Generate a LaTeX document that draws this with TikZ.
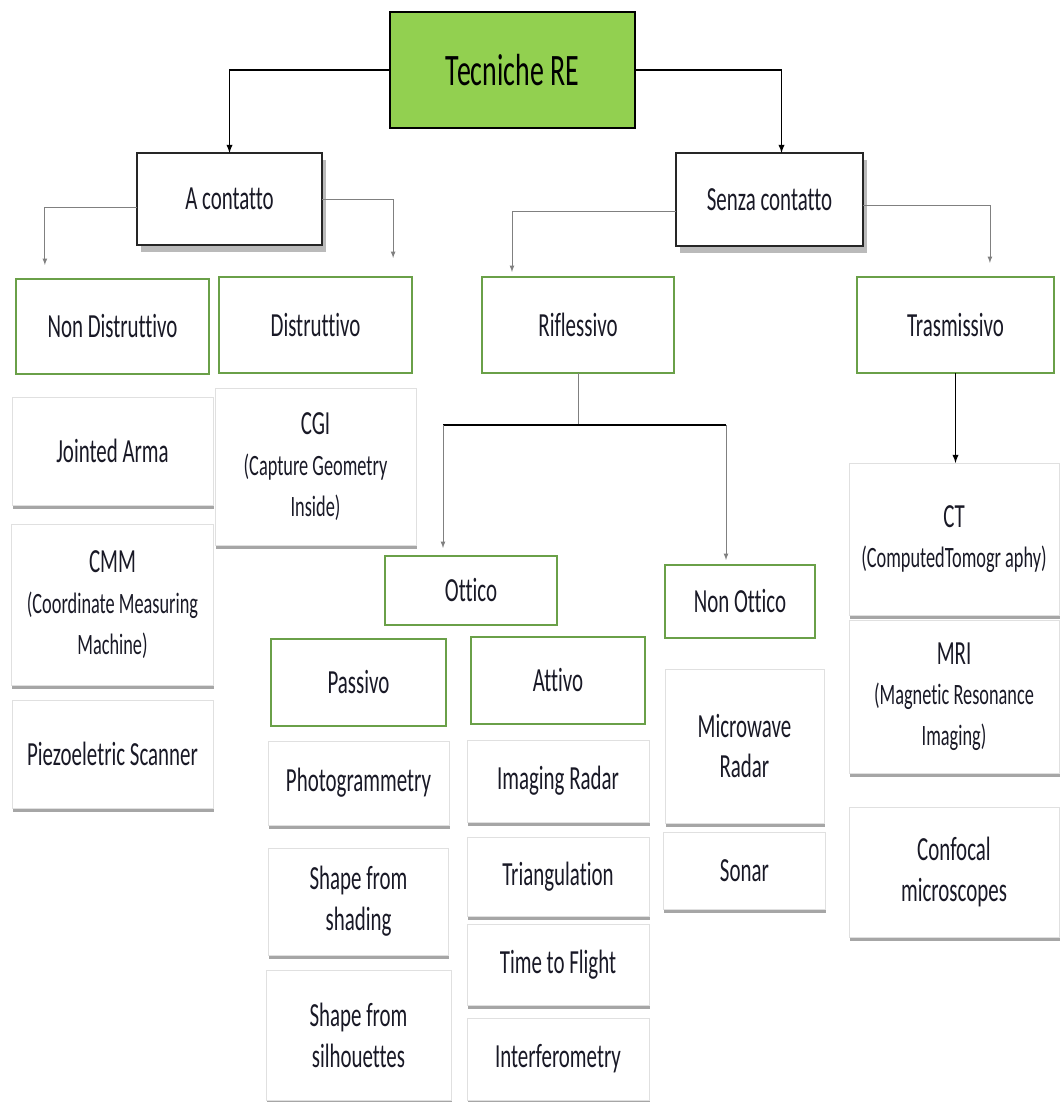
\documentclass[tikz,border=0pt]{standalone}
\usepackage{fontspec}
\setmainfont{Carlito}[FakeStretch=0.62, Ligatures=CommonOff]
\usetikzlibrary{positioning}
\usetikzlibrary{shadows}

\definecolor{rootgreen}{RGB}{146,208,80}
\definecolor{catgreen}{RGB}{106,160,72}
\definecolor{labelink}{RGB}{25,25,38}
\newcommand{\mainlbl}{\fontsize{24}{29}\selectfont}
\newcommand{\sublbl}{\fontsize{21}{29}\selectfont}

\begin{document}
\begin{tikzpicture}[x=0.025cm, y=-0.025cm, outer sep=0, >=latex,
    rootbox/.style={draw, line width=1.2pt, fill=rootgreen, minimum width=6.125cm, minimum height=2.9cm, font=\fontsize{32}{36}\selectfont},
    midbox/.style={draw=black!85, line width=1.1pt, fill=white, drop shadow={shadow xshift=3pt, shadow yshift=-5pt, fill=black!45, opacity=0.6}, font=\mainlbl, text=labelink},
    catbox/.style={draw=catgreen, line width=1.2pt, fill=white, font=\mainlbl, text=labelink},
    leafbox/.style={draw=black!12, fill=white, align=center, drop shadow={shadow xshift=0.5pt, shadow yshift=-2.5pt, fill=black!50, opacity=0.7}, font=\mainlbl, text=labelink},
    greyline/.style={gray, line width=0.6pt}]
        \useasboundingbox (0,0) rectangle (1059,1102);
        % top levels
        \node [rootbox] (root) at (512.5,70) {Tecniche RE};
        \node [midbox, minimum width=4.625cm, minimum height=2.3cm] (acont) at (229.5,199) {A contatto};
        \node [midbox, minimum width=4.675cm, minimum height=2.325cm] (scont) at (769.5,199.5) {Senza contatto};
        % categories
        \node [catbox, minimum width=4.825cm, minimum height=2.375cm] (nondistr) at (112.5,326.5) {Non Distruttivo};
        \node [catbox, minimum width=4.825cm, minimum height=2.4cm] (distr) at (315.5,325) {Distruttivo};
        \node [catbox, minimum width=4.8cm, minimum height=2.4cm] (rifl) at (578,325) {Riflessivo};
        \node [catbox, minimum width=4.925cm, minimum height=2.4cm] (trasm) at (955.5,325) {Trasmissivo};
        % contact techniques
        \node [leafbox, minimum width=5.025cm, minimum height=2.7cm, below = 0.575cm of nondistr] (jarm) {Jointed Arma};
        \node [leafbox, minimum width=5.05cm, minimum height=4.025cm, below = 0.475cm of jarm] (cmm) {CMM\\\sublbl(Coordinate Measuring\\\sublbl Machine)};
        \node [leafbox, minimum width=5.025cm, minimum height=2.7cm, below = 0.375cm of cmm] (piezo) {Piezoeletric Scanner};
        \node [leafbox, minimum width=5.025cm, minimum height=3.925cm, below = 0.375cm of distr] (cgi) {CGI\\\sublbl(Capture Geometry\\\sublbl Inside)};
        % reflective
        \node [catbox, minimum width=4.3cm, minimum height=1.725cm] (ottico) at (471,590.5) {Ottico};
        \node [catbox, minimum width=3.75cm, minimum height=1.825cm] (nonott) at (740,601.5) {Non Ottico};
        \node [catbox, minimum width=4.375cm, minimum height=2.175cm] (passivo) at (358.5,682.5) {Passivo};
        \node [catbox, minimum width=4.35cm, minimum height=2.175cm] (attivo) at (558,680.5) {Attivo};
        \node [leafbox, minimum width=4.525cm, minimum height=2.1cm, below = 0.375cm of passivo] (photo) {Photogrammetry};
        \node [leafbox, minimum width=4.5cm, minimum height=2.675cm, below = 0.575cm of photo] (shading) {Shape from\\shading};
        \node [leafbox, minimum width=4.625cm, minimum height=3.25cm, below = 0.375cm of shading] (silh) {Shape from\\silhouettes};
        \node [leafbox, minimum width=4.55cm, minimum height=2.05cm, below = 0.4cm of attivo] (imradar) {Imaging Radar};
        \node [leafbox, minimum width=4.55cm, minimum height=1.975cm, below = 0.375cm of imradar] (triang) {Triangulation};
        \node [leafbox, minimum width=4.55cm, minimum height=2.025cm, below = 0.2cm of triang] (tof) {Time to Flight};
        \node [leafbox, minimum width=4.55cm, minimum height=2.05cm, below = 0.325cm of tof] (interf) {Interferometry};
        \node [leafbox, minimum width=3.975cm, minimum height=3.85cm, below = 0.775cm of nonott, xshift=0.11cm] (mwradar) {Microwave\\Radar};
        \node [leafbox, minimum width=4.05cm, minimum height=1.925cm, below = 0.225cm of mwradar] (sonar) {Sonar};
        % transmissive
        \node [leafbox, minimum width=5.25cm, minimum height=3.8cm] (ct) at (954,539) {CT\\\sublbl(ComputedTomogr aphy)};
        \node [leafbox, minimum width=5.25cm, minimum height=3.825cm, below = 0.125cm of ct] (mri) {MRI\\\sublbl(Magnetic Resonance\\\sublbl Imaging)};
        \node [leafbox, minimum width=5.25cm, minimum height=3.25cm, below = 0.85cm of mri] (confocal) {Confocal\\microscopes};
        % main branches
        \draw[->, line width=1pt] (root.west) -| (acont.north);
        \draw[->, line width=1pt] (root.east) -| ([xshift=0.3cm]scont.north);
        % second level branches
        \coordinate (ndin) at ([xshift=-1.69cm, yshift=0.35cm]nondistr.north);
        \coordinate (din) at ([xshift=1.94cm, yshift=0.475cm]distr.north);
        \coordinate (riflin) at ([xshift=-1.65cm, yshift=0.125cm]rifl.north);
        \coordinate (trasmin) at ([xshift=0.86cm, yshift=0.35cm]trasm.north);
        \draw[->, greyline] ([yshift=-0.2cm]acont.west) -| (ndin);
        \draw[->, greyline] (acont.east) -| (din);
        \draw[->, greyline] ([yshift=-0.3cm]scont.west) -| (riflin);
        \draw[->, greyline] ([yshift=-0.15cm]scont.east) -| (trasmin);
        % reflective split
        \coordinate [below = 1.3cm of rifl] (split);
        \coordinate (ottin) at ([xshift=-0.7cm, yshift=0.2cm]ottico.north);
        \coordinate (nottin) at ([xshift=-0.35cm, yshift=0.125cm]nonott.north);
        \draw[greyline] (rifl.south) -- (split);
        \draw[line width=1.3pt] (split -| ottin) -- (split -| nottin);
        \draw[->, greyline] (split -| ottin) -- (ottin);
        \draw[->, greyline] (split -| nottin) -- (nottin);
        % transmissive
        \draw[->, line width=1pt] (trasm.south) -- (trasm.south |- ct.north);
\end{tikzpicture}
\end{document}
